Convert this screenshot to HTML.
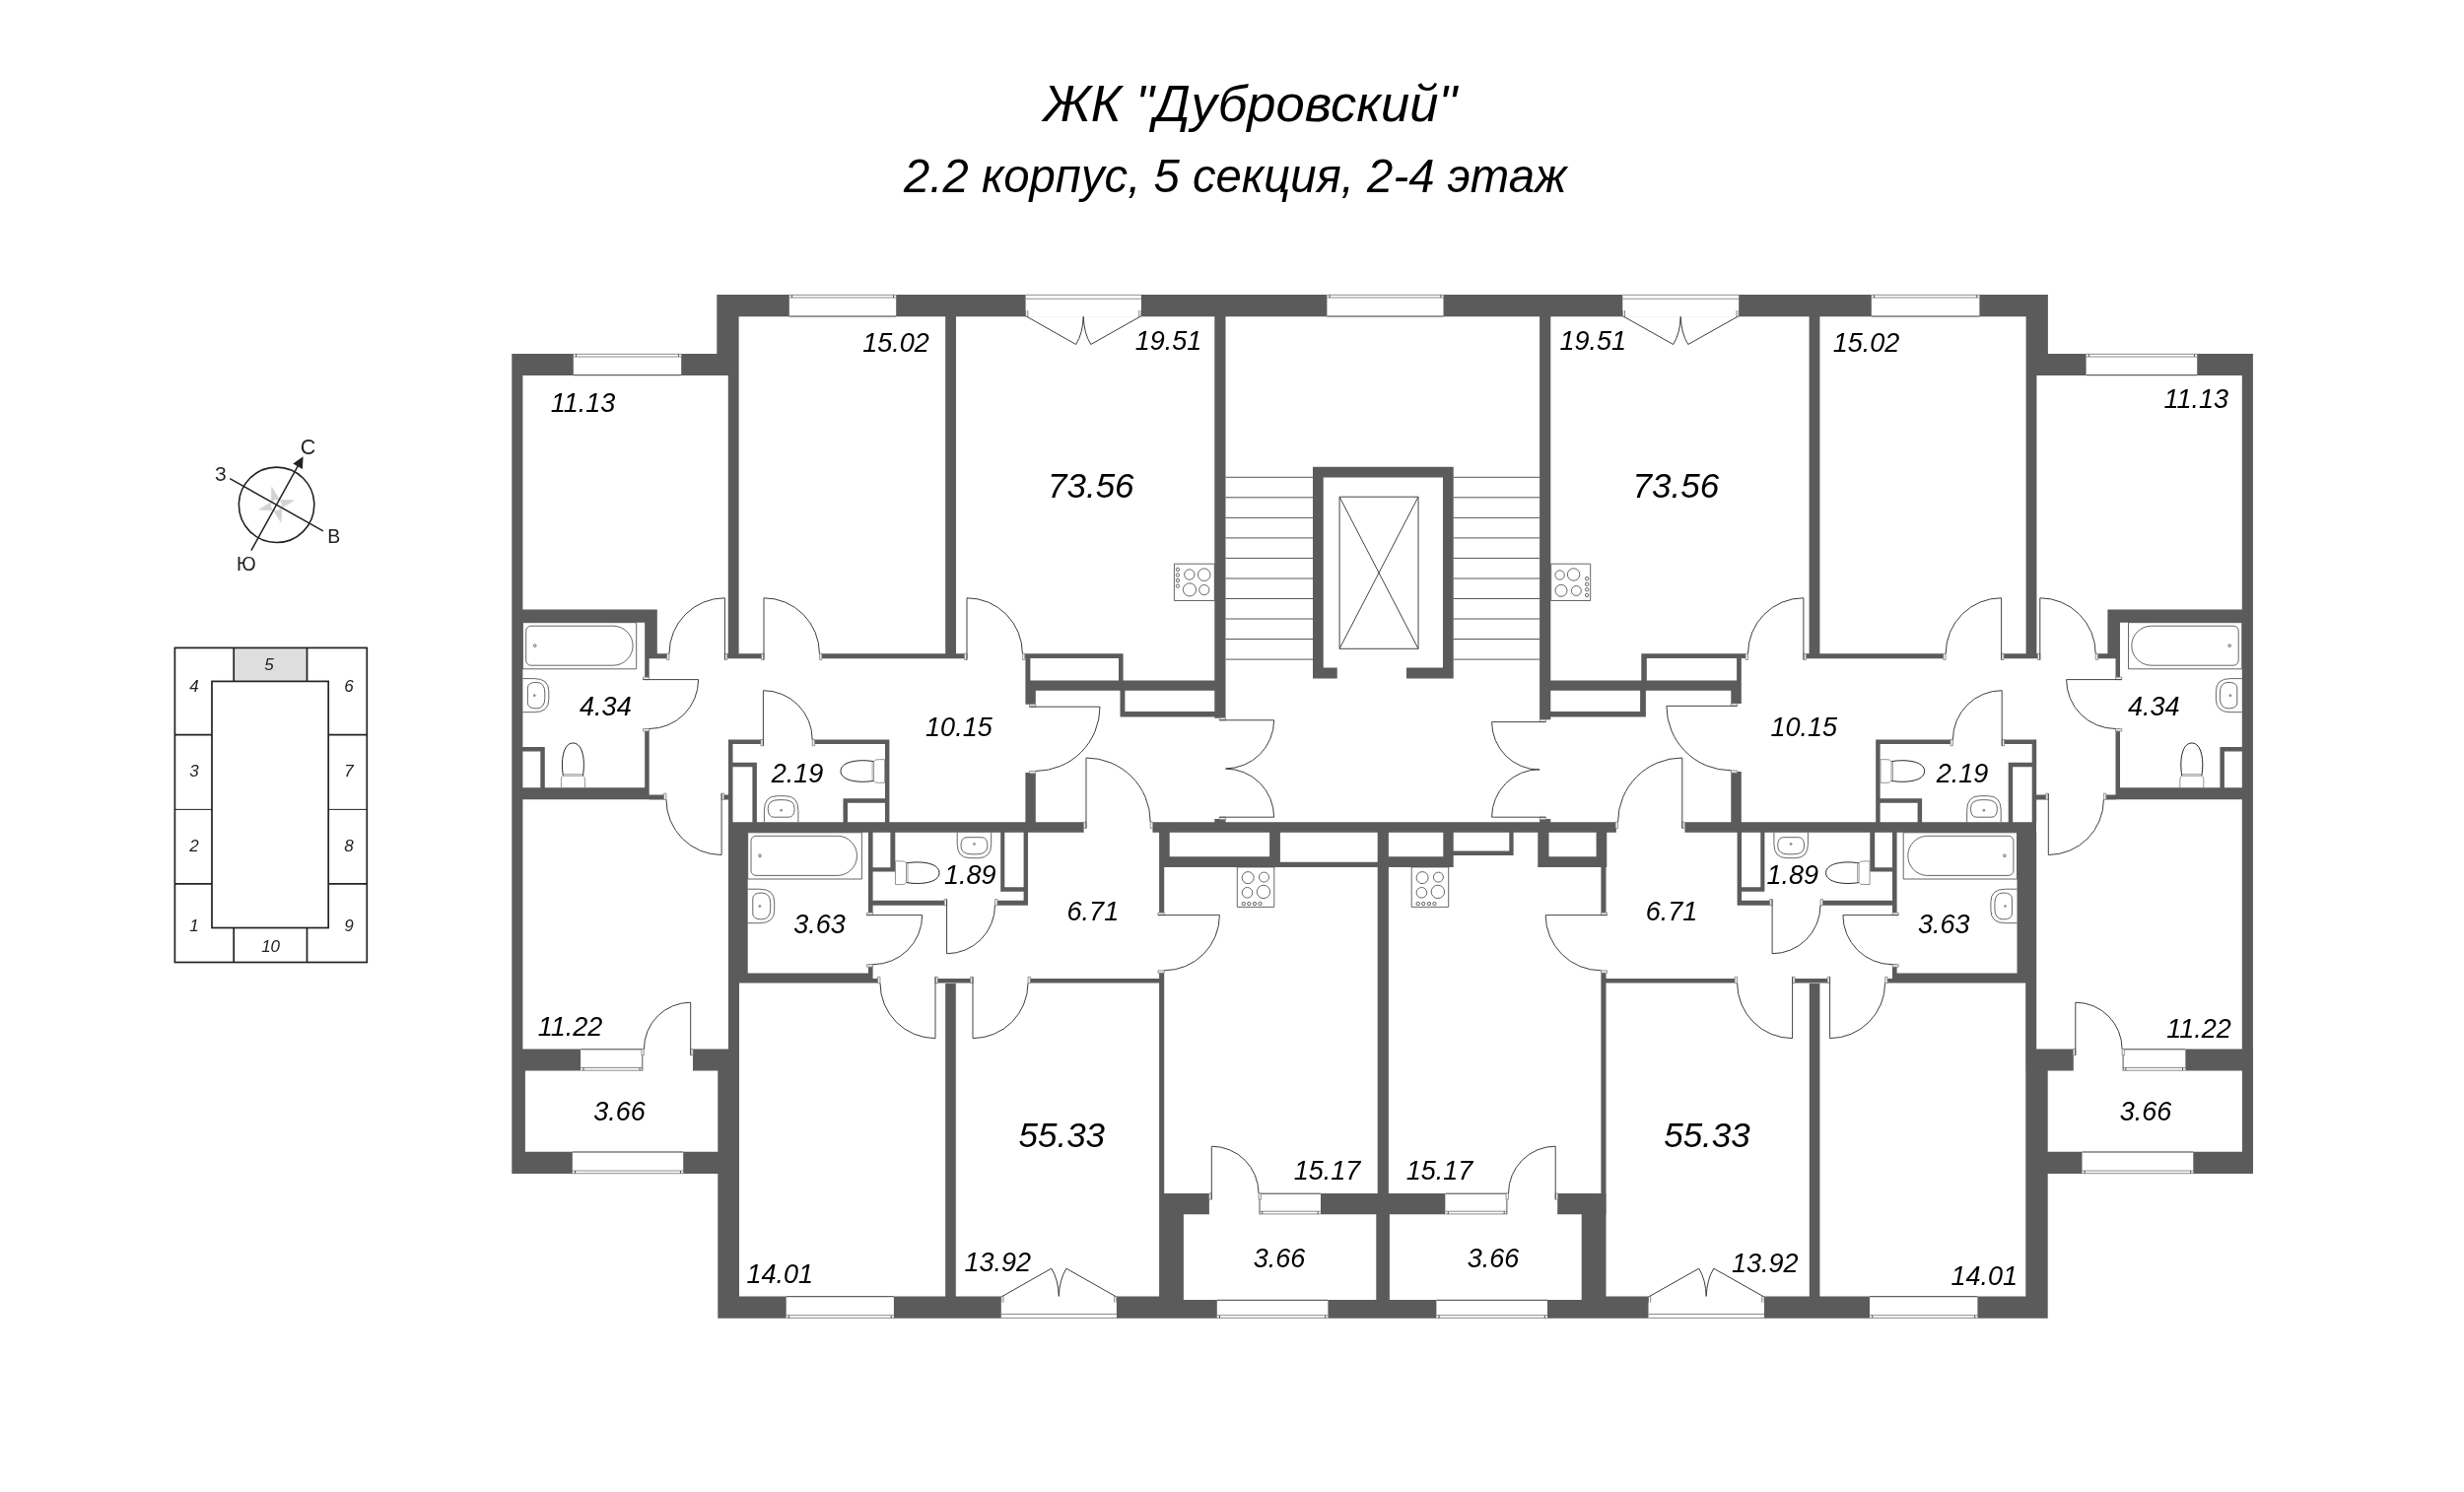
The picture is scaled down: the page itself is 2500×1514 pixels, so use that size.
<!DOCTYPE html>
<html lang="ru"><head><meta charset="utf-8"><title>ЖК "Дубровский" — 2.2 корпус, 5 секция, 2-4 этаж</title>
<style>
html,body{margin:0;padding:0;background:#fff;}
body{width:2500px;height:1514px;overflow:hidden;font-family:"Liberation Sans",sans-serif;}
svg{display:block;}
</style></head><body>
<svg width="2500" height="1514" viewBox="0 0 2500 1514">
<rect width="2500" height="1514" fill="#fff"/>
<path fill="#5b5b5b" fill-rule="nonzero" d="M519.3 359H530.4V1064.5H519.3ZM2274.8 359H2285.9V1064.5H2274.8ZM519.3 1064.5H532.9V1191H519.3ZM2274.9 1064.5H2286V1191H2274.9ZM519.3 359H749.6V381H519.3ZM2055.6 359H2285.9V381H2055.6ZM727.3 299H749.6V381H727.3ZM2055.6 299H2077.9V381H2055.6ZM738.8 381H749.6V668.3H738.8ZM2055.6 381H2066.4V668.3H2055.6ZM727.3 299H2077.8V321.3H727.3ZM959.2 321.3H970V668.3H959.2ZM1835.6 321.3H1846.4V668.3H1835.6ZM1232.3 321.3H1243.5V728.7H1232.3ZM1562.1 321.3H1573.3V730.2H1562.1ZM1332 473.7H1474.7V484.5H1332ZM1332 473.7H1342.7V688.4H1332ZM1464 473.7H1474.7V688.4H1464ZM1332 677.4H1356.7V688.4H1332ZM1427 677.4H1474.7V688.4H1427ZM530.4 618.6H666.8V631.7H530.4ZM2138.4 618.6H2274.8V631.7H2138.4ZM654.2 618.6H666.8V663.2H654.2ZM2138.4 618.6H2151V663.2H2138.4ZM654.2 663.2H658.7V687.5H654.2ZM2146.5 663.2H2151V687.5H2146.5ZM654.2 663.2H678.6V668.3H654.2ZM2126.6 663.2H2151V668.3H2126.6ZM654.2 739.3H658.7V799.2H654.2ZM2146.5 739.3H2151V799.2H2146.5ZM530.4 799.2H658.7V811.3H530.4ZM2146.5 799.2H2274.8V811.3H2146.5ZM658.7 806.6H674.2V811.4H658.7ZM2136.5 806.6H2146.8V811.4H2136.5ZM530.4 758H552.8V762.5H530.4ZM2252.4 758H2274.8V762.5H2252.4ZM548.3 758H552.8V799.2H548.3ZM2252.4 758H2256.9V799.2H2252.4ZM735.4 663.2H775V668.3H735.4ZM2030.6 663.2H2069.8V668.3H2030.6ZM831.8 663.2H978.5V668.3H831.8ZM1832.4 663.2H1974V668.3H1832.4ZM1766.8 663.2H1771.4V667.9H1766.8ZM739 750.5H743.5V834.2H739ZM2061.7 750.5H2066.2V834.2H2061.7ZM739 750.5H774.4V755H739ZM2031.2 750.5H2066.2V755H2031.2ZM824.7 750.5H902.4V755H824.7ZM1903.2 750.5H1980.9V755H1903.2ZM898 750.5H902.4V834.2H898ZM1903.2 750.5H1907.6V834.2H1903.2ZM743.5 773.8H767.9V778.3H743.5ZM2037.7 773.8H2061.7V778.3H2037.7ZM763.4 773.8H767.9V834.2H763.4ZM2037.7 773.8H2042.2V834.2H2037.7ZM855.5 810.3H898V814.8H855.5ZM1907.6 810.3H1950.1V814.8H1907.6ZM855.5 810.3H860V834.2H855.5ZM1945.6 810.3H1950.1V834.2H1945.6ZM734.3 806.6H739.5V811.4H734.3ZM2065.5 806.6H2076V811.4H2065.5ZM739 834.2H1099.6V844.8H739ZM1169.4 834.2H1639.9V844.8H1169.4ZM1709.5 834.2H2066V844.8H1709.5ZM1232.3 831H1243.5V834.2H1232.3ZM1562.1 831H1573.3V834.2H1562.1ZM1038.6 663.2H1139.6V667.9H1038.6ZM1665.3 663.2H1766.8V667.9H1665.3ZM1040.4 663.2H1045.4V690.6H1040.4ZM1762.1 663.2H1766.8V690.6H1762.1ZM1135 663.2H1139.6V690.6H1135ZM1665.3 663.2H1670.8V690.6H1665.3ZM1040.4 690.4H1232.3V700.8H1040.4ZM1573.3 690.4H1766.8V700.8H1573.3ZM1040.4 700.8H1050.8V714.8H1040.4ZM1756.3 700.8H1766.8V714H1756.3ZM1040.4 784H1050.8V834.2H1040.4ZM1756.3 783H1766.8V834.2H1756.3ZM1136.5 700.8H1141.4V727.5H1136.5ZM1664.1 700.8H1669.9V727.5H1664.1ZM1136.5 722.1H1232.3V727.5H1136.5ZM1573.3 722.1H1669.9V727.5H1573.3ZM739 844.8H758.7V997.6H739ZM2046.5 844.8H2066.2V997.6H2046.5ZM739 997.6H750V1064.5H739ZM2055.2 997.6H2066.2V1064.5H2055.2ZM758.7 987.4H885.6V997.6H758.7ZM1920 987.4H2046.5V997.6H1920ZM885.6 993H890.8V997.6H885.6ZM1914.8 993H1920V997.6H1914.8ZM881 844.8H885.6V927H881ZM1920 844.8H1924.6V927H1920ZM881 978.3H885.6V992.5H881ZM1920 978.3H1924.6V992.5H1920ZM903.4 844.8H908.3V884.5H903.4ZM1897.3 844.8H1902.2V884.5H1897.3ZM885.6 880.3H908.3V884.5H885.6ZM1897.3 880.3H1920V884.5H1897.3ZM885.6 913.8H959.6V918.8H885.6ZM1011.2 913.8H1043V918.8H1011.2ZM1763.2 913.8H1797.1V918.8H1763.2ZM1848 913.8H1920.4V918.8H1848ZM1015.2 844.8H1019.3V904.8H1015.2ZM1786.3 844.8H1790.4V904.8H1786.3ZM1015.2 900.2H1043V904.8H1015.2ZM1762.6 900.2H1790.4V904.8H1762.6ZM1038.6 844.8H1043V918.8H1038.6ZM1762.6 844.8H1767V918.8H1762.6ZM949 993H987V997.6H949ZM1818.6 993H1856.6V997.6H1818.6ZM959.2 998H969.8V1315.4H959.2ZM1835.8 998H1846.4V1315.4H1835.8ZM1045 993H1176.1V997.6H1045ZM1629.5 993H1760.6V997.6H1629.5ZM1176.1 879.9H1181.2V927.1H1176.1ZM1624.4 879.9H1629.5V927.1H1624.4ZM1176.1 986H1181.2V1210.9H1176.1ZM1624.4 986H1629.5V1210.9H1624.4ZM1176.1 844.8H1186.7V879.9H1176.1ZM1176.1 869.3H1298.9V879.9H1176.1ZM1288.1 844.8H1298.9V879.9H1288.1ZM1298.9 874.8H1397.7V879.9H1298.9ZM1397.7 844.8H1408.9V1232.2H1397.7ZM1396.3 1232.2H1409.9V1337.7H1396.3ZM1408.9 869.3H1474.7V879.9H1408.9ZM1464.3 844.8H1474.7V879.9H1464.3ZM1474.7 863.6H1535.6V868.1H1474.7ZM1531.3 844.8H1535.6V868.1H1531.3ZM1560.3 844.8H1571.5V879.9H1560.3ZM1560.3 869.3H1630.3V879.9H1560.3ZM1619.6 844.8H1630.3V879.9H1619.6ZM1176.1 1210.9H1226.9V1232.2H1176.1ZM1580.2 1210.9H1629.7V1232.2H1580.2ZM1339.9 1210.9H1466.6V1232.2H1339.9ZM1176.1 1210.9H1200.9V1337.7H1176.1ZM1604.7 1210.9H1629.5V1337.7H1604.7ZM728.3 1315.4H1200.9V1337.7H728.3ZM1200.9 1319H1605.2V1337.7H1200.9ZM1605.2 1315.4H2077.7V1337.7H1605.2ZM728.3 1085.8H750V1337.7H728.3ZM2055.3 1085.8H2077.7V1337.7H2055.3ZM519.3 1064.5H589.3V1086.5H519.3ZM2217.2 1064.5H2286V1086.5H2217.2ZM703 1064.5H750V1086.5H703ZM2055.2 1064.5H2103.8V1086.5H2055.2ZM519.3 1168.7H750V1191H519.3ZM2055.3 1168.7H2286V1191H2055.3Z"/>
<path fill="#fff" d="M581.8 358.5H691.2V381.5H581.8ZM2116.6 358.5H2229.2V381.5H2116.6ZM800.8 298.5H909.2V321.8H800.8ZM1898.8 298.5H2008.4V321.8H1898.8ZM1346.4 298.5H1464.5V321.8H1346.4ZM1040.6 298.5H1157.9V321.8H1040.6ZM1646.3 298.5H1764.2V321.8H1646.3ZM1015.8 1314.9H1132.9V1338.2H1015.8ZM1672.5 1314.9H1790V1338.2H1672.5ZM797.7 1314.9H906.9V1338.2H797.7ZM1897 1314.9H2006.4V1338.2H1897ZM1234.8 1318.5H1347.4V1338.2H1234.8ZM1457.4 1318.5H1570V1338.2H1457.4ZM580.8 1168.2H693.2V1191.5H580.8ZM2112.5 1168.2H2225.3V1191.5H2112.5ZM589.3 1064H651.8V1087H589.3ZM2154.1 1064H2217.2V1087H2154.1ZM1278 1210.4H1339.9V1232.7H1278ZM1466.6 1210.4H1528.9V1232.7H1466.6Z"/>
<path fill="none" stroke="#8c8c8c" stroke-width="1" d="M581.8 359.3L691.2 359.3M581.8 362L691.2 362M2116.6 359.3L2229.2 359.3M2116.6 362L2229.2 362M800.8 299.3L909.2 299.3M800.8 302L909.2 302M1898.8 299.3L2008.4 299.3M1898.8 302L2008.4 302M1346.4 299.3L1464.5 299.3M1346.4 302L1464.5 302M1040.6 299.3L1157.9 299.3M1040.6 303.2L1157.9 303.2M1646.3 299.3L1764.2 299.3M1646.3 303.2L1764.2 303.2M1015.8 1337.4L1132.9 1337.4M1015.8 1333.5L1132.9 1333.5M1672.5 1337.4L1790 1337.4M1672.5 1333.5L1790 1333.5M797.7 1337.4L906.9 1337.4M797.7 1334.7L906.9 1334.7M1897 1337.4L2006.4 1337.4M1897 1334.7L2006.4 1334.7M1234.8 1337.4L1347.4 1337.4M1234.8 1334.7L1347.4 1334.7M1457.4 1337.4L1570 1337.4M1457.4 1334.7L1570 1334.7M580.8 1190.7L693.2 1190.7M580.8 1188L693.2 1188M2112.5 1190.7L2225.3 1190.7M2112.5 1188L2225.3 1188M589.3 1086.2L651.8 1086.2M589.3 1083.5L651.8 1083.5M2154.1 1086.2L2217.2 1086.2M2154.1 1083.5L2217.2 1083.5M1278 1231.9L1339.9 1231.9M1278 1229.2L1339.9 1229.2M1466.6 1231.9L1528.9 1231.9M1466.6 1229.2L1528.9 1229.2"/>
<path fill="none" stroke="#3c3c3c" stroke-width="1" d="M581.8 380.7L691.2 380.7M2116.6 380.7L2229.2 380.7M800.8 321L909.2 321M1898.8 321L2008.4 321M1346.4 321L1464.5 321M797.7 1315.7L906.9 1315.7M1897 1315.7L2006.4 1315.7M1234.8 1319.3L1347.4 1319.3M1457.4 1319.3L1570 1319.3M580.8 1169L693.2 1169M2112.5 1169L2225.3 1169M589.3 1064.8L651.8 1064.8M2154.1 1064.8L2217.2 1064.8M1278 1211.2L1339.9 1211.2M1466.6 1211.2L1528.9 1211.2"/>
<path fill="none" stroke="#555" stroke-width="1" d="M584.5 359.3L584.5 362M688.5 359.3L688.5 362M2119.3 359.3L2119.3 362M2226.5 359.3L2226.5 362M803.5 299.3L803.5 302M906.5 299.3L906.5 302M1901.5 299.3L1901.5 302M2005.7 299.3L2005.7 302M1349.1 299.3L1349.1 302M1461.8 299.3L1461.8 302M800.4 1334.7L800.4 1337.4M904.2 1334.7L904.2 1337.4M1899.7 1334.7L1899.7 1337.4M2003.7 1334.7L2003.7 1337.4M1237.5 1334.7L1237.5 1337.4M1344.7 1334.7L1344.7 1337.4M1460.1 1334.7L1460.1 1337.4M1567.3 1334.7L1567.3 1337.4M583.5 1188L583.5 1190.7M690.5 1188L690.5 1190.7M2115.2 1188L2115.2 1190.7M2222.6 1188L2222.6 1190.7M592 1083.5L592 1086.2M649.1 1083.5L649.1 1086.2M2156.8 1083.5L2156.8 1086.2M2214.5 1083.5L2214.5 1086.2M651.8 1064.5L651.8 1086.5M2154.1 1064.5L2154.1 1086.5M1278 1210.9L1278 1232.2M1528.9 1210.9L1528.9 1232.2M1280.7 1229.2L1280.7 1231.9M1337.2 1229.2L1337.2 1231.9M1469.3 1229.2L1469.3 1231.9M1526.2 1229.2L1526.2 1231.9M1243.5 484.3L1332 484.3M1474.7 484.3L1562.1 484.3M1243.5 504.8L1332 504.8M1474.7 504.8L1562.1 504.8M1243.5 525.4L1332 525.4M1474.7 525.4L1562.1 525.4M1243.5 545.9L1332 545.9M1474.7 545.9L1562.1 545.9M1243.5 566.4L1332 566.4M1474.7 566.4L1562.1 566.4M1243.5 587L1332 587M1474.7 587L1562.1 587M1243.5 607.5L1332 607.5M1474.7 607.5L1562.1 607.5M1243.5 628L1332 628M1474.7 628L1562.1 628M1243.5 648.5L1332 648.5M1474.7 648.5L1562.1 648.5M1243.5 669.1L1332 669.1M1474.7 669.1L1562.1 669.1"/>
<path fill="none" stroke="#666" stroke-width="0.8" d="M1040.6 315 v6.3 h2.2 v-6.3"/>
<path fill="none" stroke="#666" stroke-width="0.8" d="M1157.9 315 v6.3 h-2.2 v-6.3"/>
<path fill="none" stroke="#3c3c3c" stroke-width="1" d="M1041.8 321.3 L1091.7 349.5 Q1098.7 338.3 1099.2 321.3 M1156.7 321.3 L1106.8 349.5 Q1099.8 338.3 1099.2 321.3"/>
<path fill="none" stroke="#666" stroke-width="0.8" d="M1646.3 315 v6.3 h2.2 v-6.3"/>
<path fill="none" stroke="#666" stroke-width="0.8" d="M1764.2 315 v6.3 h-2.2 v-6.3"/>
<path fill="none" stroke="#3c3c3c" stroke-width="1" d="M1647.5 321.3 L1697.7 349.5 Q1704.7 338.3 1705.2 321.3 M1763 321.3 L1712.8 349.5 Q1705.8 338.3 1705.2 321.3"/>
<path fill="none" stroke="#666" stroke-width="0.8" d="M1015.8 1321.7 v-6.3 h2.2 v6.3"/>
<path fill="none" stroke="#666" stroke-width="0.8" d="M1132.9 1321.7 v-6.3 h-2.2 v6.3"/>
<path fill="none" stroke="#3c3c3c" stroke-width="1" d="M1017 1315.4 L1066.8 1287.2 Q1073.8 1298.4 1074.3 1315.4 M1131.7 1315.4 L1081.9 1287.2 Q1074.9 1298.4 1074.3 1315.4"/>
<path fill="none" stroke="#666" stroke-width="0.8" d="M1672.5 1321.7 v-6.3 h2.2 v6.3"/>
<path fill="none" stroke="#666" stroke-width="0.8" d="M1790 1321.7 v-6.3 h-2.2 v6.3"/>
<path fill="none" stroke="#3c3c3c" stroke-width="1" d="M1673.7 1315.4 L1723.7 1287.2 Q1730.7 1298.4 1731.2 1315.4 M1788.8 1315.4 L1738.8 1287.2 Q1731.8 1298.4 1731.2 1315.4"/>
<path fill="#ececec" stroke="#777" stroke-width="0.7" d="M735.4 663.2 L737.9 663.2 L737.9 669.5 L735.4 669.5 Z"/>
<path fill="#ececec" stroke="#777" stroke-width="0.7" d="M679 663.2 L676.5 663.2 L676.5 669.5 L679 669.5 Z"/>
<path fill="none" stroke="#444" stroke-width="1" d="M735.4 606.8 L735.4 669.5"/>
<path fill="none" stroke="#3c3c3c" stroke-width="1" d="M735.4 606.8 A56.4 56.4 0 0 0 679 663.2"/>
<path fill="#ececec" stroke="#777" stroke-width="0.7" d="M2069.8 663.2 L2067.3 663.2 L2067.3 669.5 L2069.8 669.5 Z"/>
<path fill="#ececec" stroke="#777" stroke-width="0.7" d="M2126.2 663.2 L2128.7 663.2 L2128.7 669.5 L2126.2 669.5 Z"/>
<path fill="none" stroke="#444" stroke-width="1" d="M2069.8 606.8 L2069.8 669.5"/>
<path fill="none" stroke="#3c3c3c" stroke-width="1" d="M2069.8 606.8 A56.4 56.4 0 0 1 2126.2 663.2"/>
<path fill="#ececec" stroke="#777" stroke-width="0.7" d="M775 663.2 L772.5 663.2 L772.5 669.5 L775 669.5 Z"/>
<path fill="#ececec" stroke="#777" stroke-width="0.7" d="M831.4 663.2 L833.9 663.2 L833.9 669.5 L831.4 669.5 Z"/>
<path fill="none" stroke="#444" stroke-width="1" d="M775 606.8 L775 669.5"/>
<path fill="none" stroke="#3c3c3c" stroke-width="1" d="M775 606.8 A56.4 56.4 0 0 1 831.4 663.2"/>
<path fill="#ececec" stroke="#777" stroke-width="0.7" d="M2030.6 663.2 L2033.1 663.2 L2033.1 669.5 L2030.6 669.5 Z"/>
<path fill="#ececec" stroke="#777" stroke-width="0.7" d="M1974.2 663.2 L1971.7 663.2 L1971.7 669.5 L1974.2 669.5 Z"/>
<path fill="none" stroke="#444" stroke-width="1" d="M2030.6 606.8 L2030.6 669.5"/>
<path fill="none" stroke="#3c3c3c" stroke-width="1" d="M2030.6 606.8 A56.4 56.4 0 0 0 1974.2 663.2"/>
<path fill="#ececec" stroke="#777" stroke-width="0.7" d="M981 663.2 L978.5 663.2 L978.5 669.5 L981 669.5 Z"/>
<path fill="#ececec" stroke="#777" stroke-width="0.7" d="M1037.4 663.2 L1039.9 663.2 L1039.9 669.5 L1037.4 669.5 Z"/>
<path fill="none" stroke="#444" stroke-width="1" d="M981 606.8 L981 669.5"/>
<path fill="none" stroke="#3c3c3c" stroke-width="1" d="M981 606.8 A56.4 56.4 0 0 1 1037.4 663.2"/>
<path fill="#ececec" stroke="#777" stroke-width="0.7" d="M1829.9 663.2 L1832.4 663.2 L1832.4 669.5 L1829.9 669.5 Z"/>
<path fill="#ececec" stroke="#777" stroke-width="0.7" d="M1773.5 663.2 L1771 663.2 L1771 669.5 L1773.5 669.5 Z"/>
<path fill="none" stroke="#444" stroke-width="1" d="M1829.9 606.8 L1829.9 669.5"/>
<path fill="none" stroke="#3c3c3c" stroke-width="1" d="M1829.9 606.8 A56.4 56.4 0 0 0 1773.5 663.2"/>
<path fill="#ececec" stroke="#777" stroke-width="0.7" d="M658.7 689.6 L658.7 687.1 L652.4 687.1 L652.4 689.6 Z"/>
<path fill="#ececec" stroke="#777" stroke-width="0.7" d="M658.7 739.5 L658.7 742 L652.4 742 L652.4 739.5 Z"/>
<path fill="none" stroke="#444" stroke-width="1" d="M708.6 689.6 L652.4 689.6"/>
<path fill="none" stroke="#3c3c3c" stroke-width="1" d="M708.6 689.6 A49.9 49.9 0 0 1 658.7 739.5"/>
<path fill="#ececec" stroke="#777" stroke-width="0.7" d="M2146.5 689.6 L2146.5 687.1 L2152.8 687.1 L2152.8 689.6 Z"/>
<path fill="#ececec" stroke="#777" stroke-width="0.7" d="M2146.5 739.5 L2146.5 742 L2152.8 742 L2152.8 739.5 Z"/>
<path fill="none" stroke="#444" stroke-width="1" d="M2096.6 689.6 L2152.8 689.6"/>
<path fill="none" stroke="#3c3c3c" stroke-width="1" d="M2096.6 689.6 A49.9 49.9 0 0 0 2146.5 739.5"/>
<path fill="#ececec" stroke="#777" stroke-width="0.7" d="M774.4 750.5 L771.9 750.5 L771.9 756.8 L774.4 756.8 Z"/>
<path fill="#ececec" stroke="#777" stroke-width="0.7" d="M824.2 750.5 L826.7 750.5 L826.7 756.8 L824.2 756.8 Z"/>
<path fill="none" stroke="#444" stroke-width="1" d="M774.4 700.7 L774.4 756.8"/>
<path fill="none" stroke="#3c3c3c" stroke-width="1" d="M774.4 700.7 A49.8 49.8 0 0 1 824.2 750.5"/>
<path fill="#ececec" stroke="#777" stroke-width="0.7" d="M2031.2 750.5 L2033.7 750.5 L2033.7 756.8 L2031.2 756.8 Z"/>
<path fill="#ececec" stroke="#777" stroke-width="0.7" d="M1981.4 750.5 L1978.9 750.5 L1978.9 756.8 L1981.4 756.8 Z"/>
<path fill="none" stroke="#444" stroke-width="1" d="M2031.2 700.7 L2031.2 756.8"/>
<path fill="none" stroke="#3c3c3c" stroke-width="1" d="M2031.2 700.7 A49.8 49.8 0 0 0 1981.4 750.5"/>
<path fill="#ececec" stroke="#777" stroke-width="0.7" d="M732.1 811.4 L734.6 811.4 L734.6 805.1 L732.1 805.1 Z"/>
<path fill="#ececec" stroke="#777" stroke-width="0.7" d="M676 811.4 L673.5 811.4 L673.5 805.1 L676 805.1 Z"/>
<path fill="none" stroke="#444" stroke-width="1" d="M732.1 867.5 L732.1 805.1"/>
<path fill="none" stroke="#3c3c3c" stroke-width="1" d="M732.1 867.5 A56.1 56.1 0 0 1 676 811.4"/>
<path fill="#ececec" stroke="#777" stroke-width="0.7" d="M2078.3 811.4 L2075.8 811.4 L2075.8 805.1 L2078.3 805.1 Z"/>
<path fill="#ececec" stroke="#777" stroke-width="0.7" d="M2134.4 811.4 L2136.9 811.4 L2136.9 805.1 L2134.4 805.1 Z"/>
<path fill="none" stroke="#444" stroke-width="1" d="M2078.3 867.5 L2078.3 805.1"/>
<path fill="none" stroke="#3c3c3c" stroke-width="1" d="M2078.3 867.5 A56.1 56.1 0 0 0 2134.4 811.4"/>
<path fill="#ececec" stroke="#777" stroke-width="0.7" d="M1050.8 717.2 L1050.8 714.7 L1044.5 714.7 L1044.5 717.2 Z"/>
<path fill="#ececec" stroke="#777" stroke-width="0.7" d="M1050.8 782.4 L1050.8 784.9 L1044.5 784.9 L1044.5 782.4 Z"/>
<path fill="none" stroke="#444" stroke-width="1" d="M1116 717.2 L1044.5 717.2"/>
<path fill="none" stroke="#3c3c3c" stroke-width="1" d="M1116 717.2 A65.2 65.2 0 0 1 1050.8 782.4"/>
<path fill="#ececec" stroke="#777" stroke-width="0.7" d="M1756.3 716.4 L1756.3 713.9 L1762.6 713.9 L1762.6 716.4 Z"/>
<path fill="#ececec" stroke="#777" stroke-width="0.7" d="M1756.3 781.8 L1756.3 784.3 L1762.6 784.3 L1762.6 781.8 Z"/>
<path fill="none" stroke="#444" stroke-width="1" d="M1690.9 716.4 L1762.6 716.4"/>
<path fill="none" stroke="#3c3c3c" stroke-width="1" d="M1690.9 716.4 A65.4 65.4 0 0 0 1756.3 781.8"/>
<path fill="#ececec" stroke="#777" stroke-width="0.7" d="M1102 834.2 L1099.5 834.2 L1099.5 840.5 L1102 840.5 Z"/>
<path fill="#ececec" stroke="#777" stroke-width="0.7" d="M1167.2 834.2 L1169.7 834.2 L1169.7 840.5 L1167.2 840.5 Z"/>
<path fill="none" stroke="#444" stroke-width="1" d="M1102 769 L1102 840.5"/>
<path fill="none" stroke="#3c3c3c" stroke-width="1" d="M1102 769 A65.2 65.2 0 0 1 1167.2 834.2"/>
<path fill="#ececec" stroke="#777" stroke-width="0.7" d="M1706.8 834.2 L1709.3 834.2 L1709.3 840.5 L1706.8 840.5 Z"/>
<path fill="#ececec" stroke="#777" stroke-width="0.7" d="M1641.6 834.2 L1639.1 834.2 L1639.1 840.5 L1641.6 840.5 Z"/>
<path fill="none" stroke="#444" stroke-width="1" d="M1706.8 769 L1706.8 840.5"/>
<path fill="none" stroke="#3c3c3c" stroke-width="1" d="M1706.8 769 A65.2 65.2 0 0 0 1641.6 834.2"/>
<path fill="#ececec" stroke="#777" stroke-width="0.7" d="M1243.5 730.8 L1243.5 728.3 L1237.2 728.3 L1237.2 730.8 Z"/>
<path fill="none" stroke="#444" stroke-width="1" d="M1292.6 730.8 L1237.2 730.8"/>
<path fill="none" stroke="#3c3c3c" stroke-width="1" d="M1292.6 730.8 A49.1 49.1 0 0 1 1243.5 779.9"/>
<path fill="#ececec" stroke="#777" stroke-width="0.7" d="M1243.5 829.2 L1243.5 831.7 L1237.2 831.7 L1237.2 829.2 Z"/>
<path fill="none" stroke="#444" stroke-width="1" d="M1292.6 829.2 L1237.2 829.2"/>
<path fill="none" stroke="#3c3c3c" stroke-width="1" d="M1292.6 829.2 A49.1 49.1 0 0 0 1243.5 780.1"/>
<path fill="#ececec" stroke="#777" stroke-width="0.7" d="M1562.1 732.6 L1562.1 730.1 L1568.4 730.1 L1568.4 732.6 Z"/>
<path fill="none" stroke="#444" stroke-width="1" d="M1513.6 732.6 L1568.4 732.6"/>
<path fill="none" stroke="#3c3c3c" stroke-width="1" d="M1513.6 732.6 A48.5 48.5 0 0 0 1562.1 781.1"/>
<path fill="#ececec" stroke="#777" stroke-width="0.7" d="M1562.1 829.2 L1562.1 831.7 L1568.4 831.7 L1568.4 829.2 Z"/>
<path fill="none" stroke="#444" stroke-width="1" d="M1513.6 829.2 L1568.4 829.2"/>
<path fill="none" stroke="#3c3c3c" stroke-width="1" d="M1513.6 829.2 A48.5 48.5 0 0 1 1562.1 780.7"/>
<path fill="#ececec" stroke="#777" stroke-width="0.7" d="M885.6 928.6 L885.6 926.1 L879.3 926.1 L879.3 928.6 Z"/>
<path fill="#ececec" stroke="#777" stroke-width="0.7" d="M885.6 978.7 L885.6 981.2 L879.3 981.2 L879.3 978.7 Z"/>
<path fill="none" stroke="#444" stroke-width="1" d="M935.7 928.6 L879.3 928.6"/>
<path fill="none" stroke="#3c3c3c" stroke-width="1" d="M935.7 928.6 A50.1 50.1 0 0 1 885.6 978.7"/>
<path fill="#ececec" stroke="#777" stroke-width="0.7" d="M1920 928.6 L1920 926.1 L1926.3 926.1 L1926.3 928.6 Z"/>
<path fill="#ececec" stroke="#777" stroke-width="0.7" d="M1920 978.7 L1920 981.2 L1926.3 981.2 L1926.3 978.7 Z"/>
<path fill="none" stroke="#444" stroke-width="1" d="M1869.9 928.6 L1926.3 928.6"/>
<path fill="none" stroke="#3c3c3c" stroke-width="1" d="M1869.9 928.6 A50.1 50.1 0 0 0 1920 978.7"/>
<path fill="#ececec" stroke="#777" stroke-width="0.7" d="M960.6 918.8 L958.1 918.8 L958.1 912.5 L960.6 912.5 Z"/>
<path fill="#ececec" stroke="#777" stroke-width="0.7" d="M1009.5 918.8 L1012 918.8 L1012 912.5 L1009.5 912.5 Z"/>
<path fill="none" stroke="#444" stroke-width="1" d="M960.6 967.7 L960.6 912.5"/>
<path fill="none" stroke="#3c3c3c" stroke-width="1" d="M960.6 967.7 A48.9 48.9 0 0 0 1009.5 918.8"/>
<path fill="#ececec" stroke="#777" stroke-width="0.7" d="M1798.1 918.8 L1795.6 918.8 L1795.6 912.5 L1798.1 912.5 Z"/>
<path fill="#ececec" stroke="#777" stroke-width="0.7" d="M1847 918.8 L1849.5 918.8 L1849.5 912.5 L1847 912.5 Z"/>
<path fill="none" stroke="#444" stroke-width="1" d="M1798.1 967.7 L1798.1 912.5"/>
<path fill="none" stroke="#3c3c3c" stroke-width="1" d="M1798.1 967.7 A48.9 48.9 0 0 0 1847 918.8"/>
<path fill="#ececec" stroke="#777" stroke-width="0.7" d="M949 997.6 L951.5 997.6 L951.5 991.3 L949 991.3 Z"/>
<path fill="#ececec" stroke="#777" stroke-width="0.7" d="M893 997.6 L890.5 997.6 L890.5 991.3 L893 991.3 Z"/>
<path fill="none" stroke="#444" stroke-width="1" d="M949 1053.6 L949 991.3"/>
<path fill="none" stroke="#3c3c3c" stroke-width="1" d="M949 1053.6 A56 56 0 0 1 893 997.6"/>
<path fill="#ececec" stroke="#777" stroke-width="0.7" d="M1856.6 997.6 L1854.1 997.6 L1854.1 991.3 L1856.6 991.3 Z"/>
<path fill="#ececec" stroke="#777" stroke-width="0.7" d="M1912.6 997.6 L1915.1 997.6 L1915.1 991.3 L1912.6 991.3 Z"/>
<path fill="none" stroke="#444" stroke-width="1" d="M1856.6 1053.6 L1856.6 991.3"/>
<path fill="none" stroke="#3c3c3c" stroke-width="1" d="M1856.6 1053.6 A56 56 0 0 0 1912.6 997.6"/>
<path fill="#ececec" stroke="#777" stroke-width="0.7" d="M987 997.6 L984.5 997.6 L984.5 991.3 L987 991.3 Z"/>
<path fill="#ececec" stroke="#777" stroke-width="0.7" d="M1043 997.6 L1045.5 997.6 L1045.5 991.3 L1043 991.3 Z"/>
<path fill="none" stroke="#444" stroke-width="1" d="M987 1053.6 L987 991.3"/>
<path fill="none" stroke="#3c3c3c" stroke-width="1" d="M987 1053.6 A56 56 0 0 0 1043 997.6"/>
<path fill="#ececec" stroke="#777" stroke-width="0.7" d="M1818.6 997.6 L1821.1 997.6 L1821.1 991.3 L1818.6 991.3 Z"/>
<path fill="#ececec" stroke="#777" stroke-width="0.7" d="M1762.6 997.6 L1760.1 997.6 L1760.1 991.3 L1762.6 991.3 Z"/>
<path fill="none" stroke="#444" stroke-width="1" d="M1818.6 1053.6 L1818.6 991.3"/>
<path fill="none" stroke="#3c3c3c" stroke-width="1" d="M1818.6 1053.6 A56 56 0 0 1 1762.6 997.6"/>
<path fill="#ececec" stroke="#777" stroke-width="0.7" d="M1181.2 928.6 L1181.2 926.1 L1174.9 926.1 L1174.9 928.6 Z"/>
<path fill="#ececec" stroke="#777" stroke-width="0.7" d="M1181.2 984.8 L1181.2 987.3 L1174.9 987.3 L1174.9 984.8 Z"/>
<path fill="none" stroke="#444" stroke-width="1" d="M1237.4 928.6 L1174.9 928.6"/>
<path fill="none" stroke="#3c3c3c" stroke-width="1" d="M1237.4 928.6 A56.2 56.2 0 0 1 1181.2 984.8"/>
<path fill="#ececec" stroke="#777" stroke-width="0.7" d="M1624.4 928.6 L1624.4 926.1 L1630.7 926.1 L1630.7 928.6 Z"/>
<path fill="#ececec" stroke="#777" stroke-width="0.7" d="M1624.4 984.8 L1624.4 987.3 L1630.7 987.3 L1630.7 984.8 Z"/>
<path fill="none" stroke="#444" stroke-width="1" d="M1568.2 928.6 L1630.7 928.6"/>
<path fill="none" stroke="#3c3c3c" stroke-width="1" d="M1568.2 928.6 A56.2 56.2 0 0 0 1624.4 984.8"/>
<path fill="#ececec" stroke="#777" stroke-width="0.7" d="M700.7 1064.5 L703.2 1064.5 L703.2 1070.8 L700.7 1070.8 Z"/>
<path fill="#ececec" stroke="#777" stroke-width="0.7" d="M653.4 1064.5 L650.9 1064.5 L650.9 1070.8 L653.4 1070.8 Z"/>
<path fill="none" stroke="#444" stroke-width="1" d="M700.7 1017.2 L700.7 1070.8"/>
<path fill="none" stroke="#3c3c3c" stroke-width="1" d="M700.7 1017.2 A47.3 47.3 0 0 0 653.4 1064.5"/>
<path fill="#ececec" stroke="#777" stroke-width="0.7" d="M2105.8 1064.5 L2103.3 1064.5 L2103.3 1070.8 L2105.8 1070.8 Z"/>
<path fill="#ececec" stroke="#777" stroke-width="0.7" d="M2153.1 1064.5 L2155.6 1064.5 L2155.6 1070.8 L2153.1 1070.8 Z"/>
<path fill="none" stroke="#444" stroke-width="1" d="M2105.8 1017.2 L2105.8 1070.8"/>
<path fill="none" stroke="#3c3c3c" stroke-width="1" d="M2105.8 1017.2 A47.3 47.3 0 0 1 2153.1 1064.5"/>
<path fill="#ececec" stroke="#777" stroke-width="0.7" d="M1229.3 1210.9 L1226.8 1210.9 L1226.8 1217.2 L1229.3 1217.2 Z"/>
<path fill="#ececec" stroke="#777" stroke-width="0.7" d="M1277 1210.9 L1279.5 1210.9 L1279.5 1217.2 L1277 1217.2 Z"/>
<path fill="none" stroke="#444" stroke-width="1" d="M1229.3 1163.2 L1229.3 1217.2"/>
<path fill="none" stroke="#3c3c3c" stroke-width="1" d="M1229.3 1163.2 A47.7 47.7 0 0 1 1277 1210.9"/>
<path fill="#ececec" stroke="#777" stroke-width="0.7" d="M1578.2 1210.9 L1580.7 1210.9 L1580.7 1217.2 L1578.2 1217.2 Z"/>
<path fill="#ececec" stroke="#777" stroke-width="0.7" d="M1530.5 1210.9 L1528 1210.9 L1528 1217.2 L1530.5 1217.2 Z"/>
<path fill="none" stroke="#444" stroke-width="1" d="M1578.2 1163.2 L1578.2 1217.2"/>
<path fill="none" stroke="#3c3c3c" stroke-width="1" d="M1578.2 1163.2 A47.7 47.7 0 0 0 1530.5 1210.9"/>
<path fill="none" stroke="#444" stroke-width="1" d="M1359.1 504.2 H1439 V658.3 H1359.1 Z M1359.1 504.2 L1439 658.3 M1439 504.2 L1359.1 658.3"/>
<path fill="none" stroke="#555" stroke-width="0.9" d="M530.4 631.7 H645.7 V678.8 H530.4 Z"/>
<path fill="none" stroke="#555" stroke-width="0.9" d="M538.7 635.2 H622.1 A20 20 0 0 1 622.1 675.2 H538.7 A5 5 0 0 1 533.7 670.2 V640.2 A5 5 0 0 1 538.7 635.2 Z"/>
<path fill="none" stroke="#555" stroke-width="0.9" d="M2159.5 631.7 H2274.8 V678.8 H2159.5 Z"/>
<path fill="none" stroke="#555" stroke-width="0.9" d="M2266.2 635.2 H2182.8 A20 20 0 0 0 2182.8 675.2 H2266.2 A5 5 0 0 0 2271.2 670.2 V640.2 A5 5 0 0 0 2266.2 635.2 Z"/>
<path fill="none" stroke="#555" stroke-width="0.9" d="M758.7 844.8 H874.4 V892 H758.7 Z"/>
<path fill="none" stroke="#555" stroke-width="0.9" d="M767 848.3 H850.8 A20.1 20.1 0 0 1 850.8 888.4 H767 A5 5 0 0 1 762 883.4 V853.3 A5 5 0 0 1 767 848.3 Z"/>
<path fill="none" stroke="#555" stroke-width="0.9" d="M1931.2 844.8 H2046.5 V892 H1931.2 Z"/>
<path fill="none" stroke="#555" stroke-width="0.9" d="M2037.9 848.3 H1954.5 A20.1 20.1 0 0 0 1954.5 888.4 H2037.9 A5 5 0 0 0 2042.9 883.4 V853.3 A5 5 0 0 0 2037.9 848.3 Z"/>
<path fill="none" stroke="#555" stroke-width="0.9" d="M530.4 688.6 H542.3 Q556.8 688.6 556.8 701.6 V709.7 Q556.8 722.7 542.3 722.7 H530.4"/>
<path fill="none" stroke="#555" stroke-width="0.9" d="M535.4 698.2 Q535.4 692.4 544.1 692.4 Q552.8 692.4 552.8 703 V708.3 Q552.8 718.9 544.1 718.9 Q535.4 718.9 535.4 713.1 Z"/>
<path fill="none" stroke="#555" stroke-width="0.9" d="M2274.8 688.6 H2262.9 Q2248.4 688.6 2248.4 701.6 V709.7 Q2248.4 722.7 2262.9 722.7 H2274.8"/>
<path fill="none" stroke="#555" stroke-width="0.9" d="M2269.8 698.2 Q2269.8 692.4 2261.1 692.4 Q2252.4 692.4 2252.4 703 V708.3 Q2252.4 718.9 2261.1 718.9 Q2269.8 718.9 2269.8 713.1 Z"/>
<path fill="none" stroke="#555" stroke-width="0.9" d="M758.7 902.2 H770.9 Q785.7 902.2 785.7 915.3 V923.6 Q785.7 936.7 770.9 936.7 H758.7"/>
<path fill="none" stroke="#555" stroke-width="0.9" d="M763.8 911.9 Q763.8 906 772.7 906 Q781.7 906 781.7 916.8 V922.1 Q781.7 932.9 772.7 932.9 Q763.8 932.9 763.8 927 Z"/>
<path fill="none" stroke="#555" stroke-width="0.9" d="M2046.5 902.2 H2034.5 Q2019.9 902.2 2019.9 915.3 V923.6 Q2019.9 936.7 2034.5 936.7 H2046.5"/>
<path fill="none" stroke="#555" stroke-width="0.9" d="M2041.4 911.9 Q2041.4 906 2032.7 906 Q2023.9 906 2023.9 916.8 V922.1 Q2023.9 932.9 2032.7 932.9 Q2041.4 932.9 2041.4 927 Z"/>
<path fill="none" stroke="#555" stroke-width="0.9" d="M775.4 834.2 V822.3 Q775.4 807.7 788.5 807.7 H796.8 Q809.9 807.7 809.9 822.3 V834.2"/>
<path fill="none" stroke="#555" stroke-width="0.9" d="M779.2 820.4 Q779.2 811.7 790 811.7 H795.3 Q806.1 811.7 806.1 820.4 Q806.1 829.2 800.2 829.2 H785.1 Q779.2 829.2 779.2 820.4 Z"/>
<path fill="none" stroke="#555" stroke-width="0.9" d="M1995.7 834.2 V822.3 Q1995.7 807.7 2008.8 807.7 H2017.1 Q2030.2 807.7 2030.2 822.3 V834.2"/>
<path fill="none" stroke="#555" stroke-width="0.9" d="M1999.5 820.4 Q1999.5 811.7 2010.3 811.7 H2015.6 Q2026.4 811.7 2026.4 820.4 Q2026.4 829.2 2020.5 829.2 H2005.4 Q1999.5 829.2 1999.5 820.4 Z"/>
<path fill="none" stroke="#555" stroke-width="0.9" d="M971.2 844.8 V856.5 Q971.2 870.7 984.3 870.7 H992.6 Q1005.7 870.7 1005.7 856.5 V844.8"/>
<path fill="none" stroke="#555" stroke-width="0.9" d="M975 858.3 Q975 866.8 985.8 866.8 H991.1 Q1001.9 866.8 1001.9 858.3 Q1001.9 849.7 996 849.7 H980.9 Q975 849.7 975 858.3 Z"/>
<path fill="none" stroke="#555" stroke-width="0.9" d="M1799.9 844.8 V856.5 Q1799.9 870.7 1813 870.7 H1821.3 Q1834.4 870.7 1834.4 856.5 V844.8"/>
<path fill="none" stroke="#555" stroke-width="0.9" d="M1803.7 858.3 Q1803.7 866.8 1814.5 866.8 H1819.8 Q1830.6 866.8 1830.6 858.3 Q1830.6 849.7 1824.7 849.7 H1809.6 Q1803.7 849.7 1803.7 858.3 Z"/>
<path fill="none" stroke="#222" stroke-width="1" d="M571.4 787.2 C568.9 773.2 570.9 754 581.4 754 C591.9 754 593.9 773.2 591.4 787.2"/>
<path fill="none" stroke="#888" stroke-width="0.8" d="M571.9 785.7 H590.9"/>
<path fill="none" stroke="#888" stroke-width="0.9" d="M571.4 787.2 Q568.9 788.2 569.4 792.2 V799.2 M591.4 787.2 Q593.9 788.2 593.4 792.2 V799.2 M571.4 787.2 H591.4"/>
<path fill="none" stroke="#222" stroke-width="1" d="M2213.8 787.2 C2211.3 773.2 2213.3 754 2223.8 754 C2234.3 754 2236.3 773.2 2233.8 787.2"/>
<path fill="none" stroke="#888" stroke-width="0.8" d="M2214.3 785.7 H2233.3"/>
<path fill="none" stroke="#888" stroke-width="0.9" d="M2213.8 787.2 Q2211.3 788.2 2211.8 792.2 V799.2 M2233.8 787.2 Q2236.3 788.2 2235.8 792.2 V799.2 M2213.8 787.2 H2233.8"/>
<path fill="none" stroke="#222" stroke-width="1" d="M886.6 772.7 C872.6 770.2 853 772.2 853 782.5 C853 792.8 872.6 794.8 886.6 792.3"/>
<path fill="none" stroke="#888" stroke-width="0.8" d="M885.1 773.2 V791.8"/>
<path fill="none" stroke="#888" stroke-width="0.9" d="M886.6 772.7 Q887.6 770.2 891.6 770.7 H897.6 V794.3 H891.6 Q887.6 794.8 886.6 792.3 Z"/>
<path fill="none" stroke="#222" stroke-width="1" d="M1919 772.7 C1933 770.2 1952.6 772.2 1952.6 782.5 C1952.6 792.8 1933 794.8 1919 792.3"/>
<path fill="none" stroke="#888" stroke-width="0.8" d="M1920.5 773.2 V791.8"/>
<path fill="none" stroke="#888" stroke-width="0.9" d="M1919 772.7 Q1918 770.2 1914 770.7 H1908 V794.3 H1914 Q1918 794.8 1919 792.3 Z"/>
<path fill="none" stroke="#222" stroke-width="1" d="M919.5 875.9 C933.5 873.4 953 875.4 953 885.7 C953 896 933.5 898 919.5 895.5"/>
<path fill="none" stroke="#888" stroke-width="0.8" d="M921 876.4 V895"/>
<path fill="none" stroke="#888" stroke-width="0.9" d="M919.5 875.9 Q918.5 873.4 914.5 873.9 H908.5 V897.5 H914.5 Q918.5 898 919.5 895.5 Z"/>
<path fill="none" stroke="#222" stroke-width="1" d="M1886.1 875.9 C1872.1 873.4 1852.6 875.4 1852.6 885.7 C1852.6 896 1872.1 898 1886.1 895.5"/>
<path fill="none" stroke="#888" stroke-width="0.8" d="M1884.6 876.4 V895"/>
<path fill="none" stroke="#888" stroke-width="0.9" d="M1886.1 875.9 Q1887.1 873.4 1891.1 873.9 H1897.1 V897.5 H1891.1 Q1887.1 898 1886.1 895.5 Z"/>
<path fill="none" stroke="#555" stroke-width="0.9" d="M1191.4 572.2 H1232.3 V609.5 H1191.4 Z"/>
<path fill="none" stroke="#555" stroke-width="0.9" d="M1573.7 572.2 H1613.7 V609.5 H1573.7 Z"/>
<path fill="none" stroke="#555" stroke-width="0.9" d="M1255.3 879.9 H1292.8 V920.4 H1255.3 Z"/>
<path fill="none" stroke="#555" stroke-width="0.9" d="M1432.2 879.9 H1469.7 V920.4 H1432.2 Z"/>
<g fill="none" stroke="#555" stroke-width="0.9">
<circle cx="542.7" cy="655.2" r="1.3"/>
<circle cx="2262.2" cy="655.2" r="1.3"/>
<circle cx="771" cy="868.3" r="1.3"/>
<circle cx="2033.9" cy="868.3" r="1.3"/>
<circle cx="542.3" cy="705.7" r="0.9"/>
<circle cx="2262.9" cy="705.7" r="0.9"/>
<circle cx="770.9" cy="919.5" r="0.9"/>
<circle cx="2034.5" cy="919.5" r="0.9"/>
<circle cx="792.6" cy="822.3" r="0.9"/>
<circle cx="2012.9" cy="822.3" r="0.9"/>
<circle cx="988.5" cy="856.5" r="0.9"/>
<circle cx="1817.1" cy="856.5" r="0.9"/>
<circle cx="1206.8" cy="583" r="5.2"/>
<circle cx="1221.8" cy="583.2" r="6.3"/>
<circle cx="1207" cy="598.4" r="6.6"/>
<circle cx="1221.8" cy="598.6" r="5.1"/>
<circle cx="1194.9" cy="577.9" r="1.7"/>
<circle cx="1194.9" cy="583.5" r="1.7"/>
<circle cx="1194.9" cy="589" r="1.7"/>
<circle cx="1194.9" cy="594.6" r="1.7"/>
<circle cx="1582.6" cy="583.5" r="4.7"/>
<circle cx="1596.6" cy="583" r="6.2"/>
<circle cx="1584" cy="599.3" r="6"/>
<circle cx="1599.3" cy="599.5" r="5"/>
<circle cx="1610.1" cy="587.1" r="1.7"/>
<circle cx="1610.1" cy="592.8" r="1.7"/>
<circle cx="1610.1" cy="598.3" r="1.7"/>
<circle cx="1610.1" cy="604" r="1.7"/>
<circle cx="1266.2" cy="890.6" r="6"/>
<circle cx="1282.5" cy="890.1" r="5"/>
<circle cx="1265.5" cy="905.8" r="5.3"/>
<circle cx="1282" cy="904.9" r="6.7"/>
<circle cx="1261.8" cy="917" r="1.7"/>
<circle cx="1267.3" cy="917" r="1.7"/>
<circle cx="1273" cy="917" r="1.7"/>
<circle cx="1278.5" cy="917" r="1.7"/>
<circle cx="1443.1" cy="890.6" r="6"/>
<circle cx="1459.4" cy="890.1" r="5"/>
<circle cx="1442.4" cy="905.8" r="5.3"/>
<circle cx="1458.9" cy="904.9" r="6.7"/>
<circle cx="1438.7" cy="917" r="1.7"/>
<circle cx="1444.2" cy="917" r="1.7"/>
<circle cx="1449.9" cy="917" r="1.7"/>
<circle cx="1455.4" cy="917" r="1.7"/>
</g>
<g id="compass" opacity="0.999">
<defs><filter id="bl" x="-30%" y="-30%" width="160%" height="160%"><feGaussianBlur stdDeviation="0.7"/></filter></defs>
<g transform="translate(280.5 512.5) rotate(-15)" filter="url(#bl)">
<path fill="#d2d2d2" d="M0 -20 L4.6 -4.6 L19.5 0 L4.6 4.6 L0 19 L-4.6 4.6 L-19.5 0 L-4.6 -4.6 Z"/>
<circle r="5.6" fill="#fff"/>
</g>
<circle cx="280.6" cy="512.3" r="38.2" fill="none" stroke="#222" stroke-width="1.6"/>
<path d="M254.9 558.7 L303.6 470.3 M233.2 485.7 L327.9 538.8" stroke="#222" stroke-width="1.5" fill="none"/>
<path d="M307.6 463.2 L306.9 476 L297.3 470.6 Z" fill="#222"/>
<g font-family="'Liberation Sans', sans-serif" fill="#222" text-anchor="middle">
<text x="312.6" y="461.4" font-size="21.5">С</text>
<text x="223.8" y="488.3" font-size="19.5">З</text>
<text x="338.8" y="551" font-size="19.5">В</text>
<text x="249.8" y="579.3" font-size="19.5">Ю</text>
</g>
</g>
<g id="keyplan" opacity="0.999">
<rect x="237.2" y="657.4" width="74.3" height="34" fill="#dedede"/>
<g fill="none" stroke="#222" stroke-width="1.7">
<rect x="177.4" y="657.4" width="194.9" height="319.1"/>
<rect x="215" y="691.4" width="118.2" height="250.1"/>
<path d="M237.2 657.4V691.4M311.5 657.4V691.4M237.2 941.5V976.5M311.5 941.5V976.5M177.4 745.6H215M177.4 896.9H215M333.2 745.6H372.3M333.2 896.9H372.3"/>
</g>
<path d="M177.4 821.4H215M333.2 821.4H372.3" fill="none" stroke="#222" stroke-width="1"/>
<g font-family="'Liberation Sans', sans-serif" font-style="italic" font-size="17" fill="#222" text-anchor="middle">
<text x="196.9" y="702.2">4</text><text x="196.9" y="788.4">3</text><text x="196.9" y="864.4">2</text><text x="196.9" y="944.7">1</text>
<text x="273" y="679.9">5</text><text x="274.6" y="965.7">10</text>
<text x="353.9" y="702.2">6</text><text x="353.9" y="788.4">7</text><text x="353.9" y="864.4">8</text><text x="353.9" y="944.7">9</text>
</g>
</g>
<g font-family="'Liberation Sans', sans-serif" fill="#000" opacity="0.999">
<text x="558.7" y="418.4" font-size="27" font-style="italic">11.13</text>
<text x="875.2" y="357.1" font-size="27" font-style="italic">15.02</text>
<text x="1151.8" y="355" font-size="27" font-style="italic">19.51</text>
<text x="1582.4" y="355" font-size="27" font-style="italic">19.51</text>
<text x="1859.7" y="357.1" font-size="27" font-style="italic">15.02</text>
<text x="2195.5" y="413.5" font-size="27" font-style="italic">11.13</text>
<text x="588.1" y="725.7" font-size="27" font-style="italic">4.34</text>
<text x="782.8" y="794" font-size="27" font-style="italic">2.19</text>
<text x="939.1" y="747.4" font-size="27" font-style="italic">10.15</text>
<text x="1796.5" y="747.4" font-size="27" font-style="italic">10.15</text>
<text x="1964.8" y="794" font-size="27" font-style="italic">2.19</text>
<text x="2159" y="725.7" font-size="27" font-style="italic">4.34</text>
<text x="805.2" y="947.4" font-size="27" font-style="italic">3.63</text>
<text x="958" y="897.4" font-size="27" font-style="italic">1.89</text>
<text x="1082.6" y="933.6" font-size="27" font-style="italic">6.71</text>
<text x="1669.7" y="933.6" font-size="27" font-style="italic">6.71</text>
<text x="1792.5" y="897.1" font-size="27" font-style="italic">1.89</text>
<text x="1945.9" y="947.4" font-size="27" font-style="italic">3.63</text>
<text x="545.8" y="1051.3" font-size="27" font-style="italic">11.22</text>
<text x="2198.2" y="1053.4" font-size="27" font-style="italic">11.22</text>
<text x="602.3" y="1136.8" font-size="27" font-style="italic">3.66</text>
<text x="2150.8" y="1136.8" font-size="27" font-style="italic">3.66</text>
<text x="1271.8" y="1286" font-size="27" font-style="italic">3.66</text>
<text x="1488.7" y="1286" font-size="27" font-style="italic">3.66</text>
<text x="1312.8" y="1196.7" font-size="27" font-style="italic">15.17</text>
<text x="1426.8" y="1196.7" font-size="27" font-style="italic">15.17</text>
<text x="757.5" y="1301.8" font-size="27" font-style="italic">14.01</text>
<text x="1979.4" y="1304.2" font-size="27" font-style="italic">14.01</text>
<text x="978.4" y="1290.2" font-size="27" font-style="italic">13.92</text>
<text x="1757" y="1291" font-size="27" font-style="italic">13.92</text>
<text x="1063" y="504.8" font-size="35" font-style="italic">73.56</text>
<text x="1656.6" y="504.8" font-size="35" font-style="italic">73.56</text>
<text x="1033.5" y="1164.2" font-size="35" font-style="italic">55.33</text>
<text x="1688.2" y="1164.2" font-size="35" font-style="italic">55.33</text>
<text x="1268.3" y="123" font-size="52.5" text-anchor="middle" font-style="italic">ЖК &quot;Дубровский&quot;</text>
<text x="1253.3" y="195.4" font-size="47.3" text-anchor="middle" font-style="italic">2.2 корпус, 5 секция, 2-4 этаж</text>
</g>
</svg>
</body></html>
